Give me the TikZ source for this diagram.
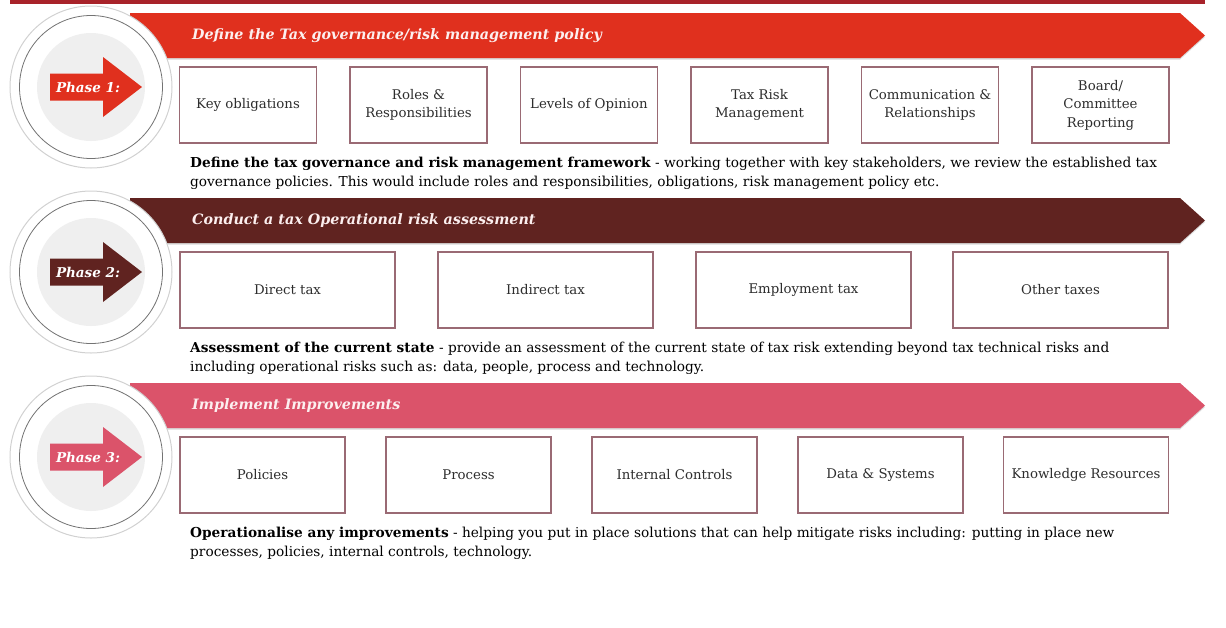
\documentclass[tikz,border=0pt]{standalone}
\usepackage{fontspec}
\setmainfont{DejaVu Serif}
\usetikzlibrary{positioning}
\definecolor{topred}{HTML}{A8232A}
\definecolor{phaseone}{HTML}{E0301E}
\definecolor{phasetwo}{HTML}{602320}
\definecolor{phasethree}{HTML}{DB536A}
\definecolor{boxline}{HTML}{9A6A74}
\definecolor{inkgray}{HTML}{2D2D2D}
\definecolor{titlepink}{HTML}{FCEFEF}
\definecolor{discgray}{HTML}{EFEFEF}

\begin{document}
\begin{tikzpicture}[x=1pt,y=-1pt,on grid,
    box/.style={draw=boxline,line width=1.1pt,fill=white,minimum width=137pt,minimum height=76pt,
      align=center,inner sep=2pt,text=inkgray,font=\fontsize{13.3}{18.5}\selectfont},
    widebox/.style={box,minimum width=215pt},
    midbox/.style={box,minimum width=165pt},
    title/.style={anchor=west,inner sep=0pt,text=titlepink,font=\fontsize{14.3}{16}\selectfont\bfseries\itshape},
    tag/.style={inner sep=0pt,text=white,font=\fontsize{13.5}{15}\selectfont\bfseries\itshape},
    blurb/.style={anchor=north west,align=left,inner sep=0pt,text=black,font=\fontsize{13.7}{19}\selectfont},
    shade/.style={fill=black!15}]
    \useasboundingbox (0,0) rectangle (1226,627);
    \fill[topred] (10,0) rectangle (1205,3.5);

    % phase 1
    \fill[shade] (130,14.5) -- (1180,14.5) -- (1205,37) -- (1180,59.5) -- (130,59.5) -- cycle;
    \fill[phaseone] (130,13) -- (1180,13) -- (1205,35.5) -- (1180,58) -- (130,58) -- cycle;
    \node[title] (t1) at (192,35.5) {Define the Tax governance/risk management policy};
    \filldraw[fill=white,draw=black!18,line width=1pt] (91,87) circle (81);
    \draw[black!55,line width=0.8pt] (91,87) circle (71.5);
    \fill[discgray] (91,87) circle (54);
    \fill[phaseone] (50,73.5) -- (103,73.5) -- (103,57) -- (142,87) -- (103,117) -- (103,100.5) -- (50,100.5) -- cycle;
    \node[tag] (p1) at (88,87.5) {Phase 1:};

    \node[box] (k1) at (248,105) {Key obligations};
    \node[box] (k2) [right=170.5pt of k1] {Roles \&\\Responsibilities};
    \node[box] (k3) [right=170.5pt of k2] {Levels of Opinion};
    \node[box] (k4) [right=170.5pt of k3] {Tax Risk\\Management};
    \node[box] (k5) [right=170.5pt of k4] {Communication \&\\Relationships};
    \node[box] (k6) [right=170.5pt of k5] {Board/\\Committee\\Reporting};
    \node[blurb] (d1) at (190,156.5) {\textbf{Define the tax governance and risk management framework} - working together with key stakeholders, we review the established tax\\governance policies. This would include roles and responsibilities, obligations, risk management policy etc.};

    % phase 2
    \begin{scope}[yshift=-185pt]
    \fill[shade] (130,14.5) -- (1180,14.5) -- (1205,37) -- (1180,59.5) -- (130,59.5) -- cycle;
    \fill[phasetwo] (130,13) -- (1180,13) -- (1205,35.5) -- (1180,58) -- (130,58) -- cycle;
    \node[title] (t2) at (192,35.5) {Conduct a tax Operational risk assessment};
    \filldraw[fill=white,draw=black!18,line width=1pt] (91,87) circle (81);
    \draw[black!55,line width=0.8pt] (91,87) circle (71.5);
    \fill[discgray] (91,87) circle (54);
    \fill[phasetwo] (50,73.5) -- (103,73.5) -- (103,57) -- (142,87) -- (103,117) -- (103,100.5) -- (50,100.5) -- cycle;
    \node[tag] (p2) at (88,87.5) {Phase 2:};

    \node[widebox] (a1) at (287.5,105) {Direct tax};
    \node[widebox] (a2) [right=258pt of a1] {Indirect tax};
    \node[widebox] (a3) [right=258pt of a2] {Employment tax};
    \node[widebox] (a4) [right=257pt of a3] {Other taxes};
    \node[blurb] (d2) at (190,156.5) {\textbf{Assessment of the current state} - provide an assessment of the current state of tax risk extending beyond tax technical risks and\\including operational risks such as: data, people, process and technology.};
    \end{scope}

    % phase 3
    \begin{scope}[yshift=-370pt]
    \fill[shade] (130,14.5) -- (1180,14.5) -- (1205,37) -- (1180,59.5) -- (130,59.5) -- cycle;
    \fill[phasethree] (130,13) -- (1180,13) -- (1205,35.5) -- (1180,58) -- (130,58) -- cycle;
    \node[title] (t3) at (192,35.5) {Implement Improvements};
    \filldraw[fill=white,draw=black!18,line width=1pt] (91,87) circle (81);
    \draw[black!55,line width=0.8pt] (91,87) circle (71.5);
    \fill[discgray] (91,87) circle (54);
    \fill[phasethree] (50,73.5) -- (103,73.5) -- (103,57) -- (142,87) -- (103,117) -- (103,100.5) -- (50,100.5) -- cycle;
    \node[tag] (p3) at (88,87.5) {Phase 3:};

    \node[midbox] (i1) at (262.5,105) {Policies};
    \node[midbox] (i2) [right=206pt of i1] {Process};
    \node[midbox] (i3) [right=206pt of i2] {Internal Controls};
    \node[midbox] (i4) [right=206pt of i3] {Data \& Systems};
    \node[midbox] (i5) [right=205.5pt of i4] {Knowledge Resources};
    \node[blurb] (d3) at (190,156.5) {\textbf{Operationalise any improvements} - helping you put in place solutions that can help mitigate risks including: putting in place new\\processes, policies, internal controls, technology.};
    \end{scope}
\end{tikzpicture}
\end{document}
